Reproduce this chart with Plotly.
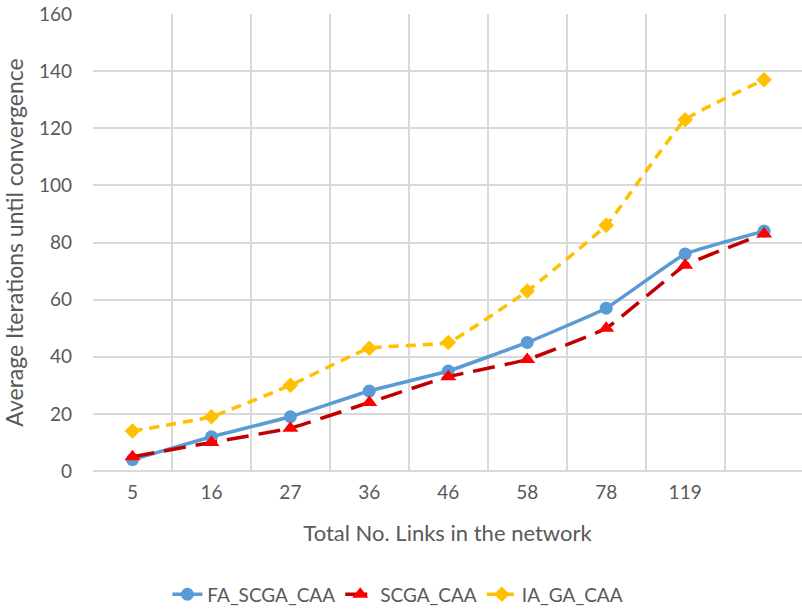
import plotly.graph_objects as go

categories = ["5", "16", "27", "36", "46", "58", "78", "119", ""]
fa_scga_caa = [4, 12, 19, 28, 35, 45, 57, 76, 84]
scga_caa = [5, 10, 15, 24, 33, 39, 50, 72, 83]
ia_ga_caa = [14, 19, 30, 43, 45, 63, 86, 123, 137]

x = list(range(len(categories)))
font = "Lato, Open Sans, sans-serif"
grey = "#595959"

fig = go.Figure()
fig.add_trace(go.Scatter(
    x=x, y=fa_scga_caa, name="FA_SCGA_CAA", mode="lines+markers",
    line=dict(color="#5B9BD5", width=3.5, shape="spline", smoothing=0.3),
    marker=dict(symbol="circle", size=13, color="#5B9BD5"),
))
fig.add_trace(go.Scatter(
    x=x, y=scga_caa, name="SCGA_CAA", mode="lines+markers",
    line=dict(color="#C00000", width=3.5, dash="22px,10px", shape="spline", smoothing=0.3),
    marker=dict(symbol="triangle-up", size=14, color="#FF0000"),
))
fig.add_trace(go.Scatter(
    x=x, y=ia_ga_caa, name="IA_GA_CAA", mode="lines+markers",
    line=dict(color="#FFC000", width=3.5, dash="10px,7px", shape="spline", smoothing=0.3),
    marker=dict(symbol="diamond", size=12, color="#FFC000"),
))

fig.update_layout(
    width=802, height=614,
    margin=dict(l=93, r=0, t=14, b=129),
    paper_bgcolor="white", plot_bgcolor="white",
    font=dict(family=font, size=19, color=grey),
    showlegend=True,
    legend=dict(orientation="h", x=0.43, xanchor="center",
                y=-0.27, yanchor="middle",
                font=dict(size=19, color=grey), traceorder="normal"),
    xaxis=dict(
        range=[-0.5, 8.48], automargin=False,
        tickmode="array", tickvals=x, ticktext=categories,
        showgrid=False, zeroline=False, showline=False, ticks="",
        ticklabelstandoff=8, ticklabeloverflow="allow",
        title=dict(text="Total No. Links in the network", font=dict(size=22, color=grey), standoff=23),
        minor=dict(tickmode="array", tickvals=[i - 0.5 for i in range(len(categories) + 1)],
                   showgrid=True, gridcolor="#D9D9D9", gridwidth=1.5, ticks=""),
    ),
    yaxis=dict(
        range=[0, 160], dtick=20, automargin=False,
        showgrid=True, gridcolor="#D9D9D9", gridwidth=1.5,
        zeroline=True, zerolinecolor="#D9D9D9", zerolinewidth=1.5,
        showline=False, ticks="", ticklen=0, ticklabelstandoff=20,
        ticklabeloverflow="allow",
        title=dict(text="Average Iterations until convergence", font=dict(size=23, color=grey), standoff=8),
    ),
)

fig.write_html("out.html", config={"displayModeBar": False},
               post_script="document.body.style.margin='0';")
